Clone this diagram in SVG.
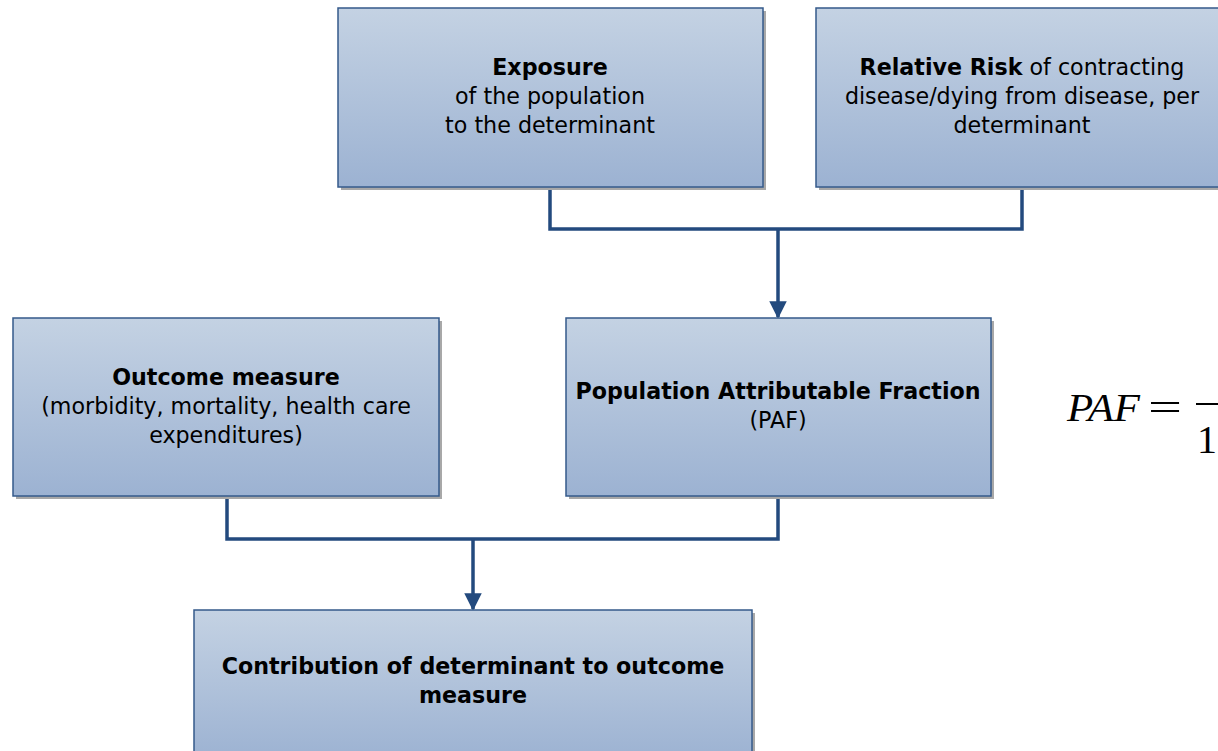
<svg xmlns="http://www.w3.org/2000/svg" width="1218" height="751" viewBox="0 0 1218 751">
<defs>
<linearGradient id="g" x1="0" y1="0" x2="0" y2="1">
<stop offset="0" stop-color="#c4d2e3"/>
<stop offset="1" stop-color="#9cb2d2"/>
</linearGradient>
<marker id="ah" viewBox="0 0 10 10" refX="9" refY="5" markerWidth="5" markerHeight="5" markerUnits="strokeWidth" orient="auto">
<path d="M0,0 L10,5 L0,10 z" fill="#234a7e"/>
</marker>
</defs>
<style>
.box{fill:url(#g);stroke:#345a8b;stroke-width:1.5}
.sh{fill:#a8a8a8}
.t{font-family:"DejaVu Sans",Verdana,sans-serif;font-size:22.2px;fill:#000;text-anchor:middle}
.b{font-weight:bold}
.c{fill:none;stroke:#234a7e;stroke-width:3.5}
.m{font-family:"Liberation Serif","DejaVu Serif",serif;font-size:40px;fill:#000}
</style>
<rect width="1218" height="751" fill="#fff"/>
<g id="connectors">
<path class="c" d="M550,187 V229 H1022 V187"/>
<path class="c" d="M778,229 V317" marker-end="url(#ah)"/>
<path class="c" d="M227,496 V539 H778 V496"/>
<path class="c" d="M473,539 V609" marker-end="url(#ah)"/>
</g>
<g id="exposure">
<rect class="sh" x="341" y="11" width="425" height="179"/>
<rect class="box" x="338" y="8" width="425" height="179"/>
<text class="t" x="550" y="75"><tspan class="b">Exposure</tspan><tspan x="550" dy="29">of the population</tspan><tspan x="550" dy="29">to the determinant</tspan></text>
</g>
<g id="relative-risk">
<rect class="sh" x="819" y="11" width="412" height="179"/>
<rect class="box" x="816" y="8" width="412" height="179"/>
<text class="t" x="1022" y="75"><tspan class="b">Relative Risk</tspan> of contracting<tspan x="1022" dy="29">disease/dying from disease, per</tspan><tspan x="1022" dy="29">determinant</tspan></text>
</g>
<g id="outcome">
<rect class="sh" x="16" y="321" width="426" height="178"/>
<rect class="box" x="13" y="318" width="426" height="178"/>
<text class="t" x="226" y="385"><tspan class="b">Outcome measure</tspan><tspan x="226" dy="29">(morbidity, mortality, health care</tspan><tspan x="226" dy="29">expenditures)</tspan></text>
</g>
<g id="paf">
<rect class="sh" x="569" y="321" width="425" height="178"/>
<rect class="box" x="566" y="318" width="425" height="178"/>
<text class="t" x="778" y="399"><tspan class="b">Population Attributable Fraction</tspan><tspan x="778" dy="29">(PAF)</tspan></text>
</g>
<g id="contribution">
<rect class="sh" x="197" y="613" width="558" height="150"/>
<rect class="box" x="194" y="610" width="558" height="150"/>
<text class="t b" x="473" y="674">Contribution of determinant to outcome<tspan x="473" dy="29">measure</tspan></text>
</g>
<g id="formula">
<text class="m" x="1067" y="421" font-style="italic" textLength="73" lengthAdjust="spacingAndGlyphs">PAF</text>
<text class="m" x="1148" y="421" textLength="34" lengthAdjust="spacingAndGlyphs">=</text>
<line x1="1196" y1="404" x2="1218" y2="404" stroke="#000" stroke-width="2"/>
<text class="m" x="1197" y="453">1</text>
</g>
</svg>
